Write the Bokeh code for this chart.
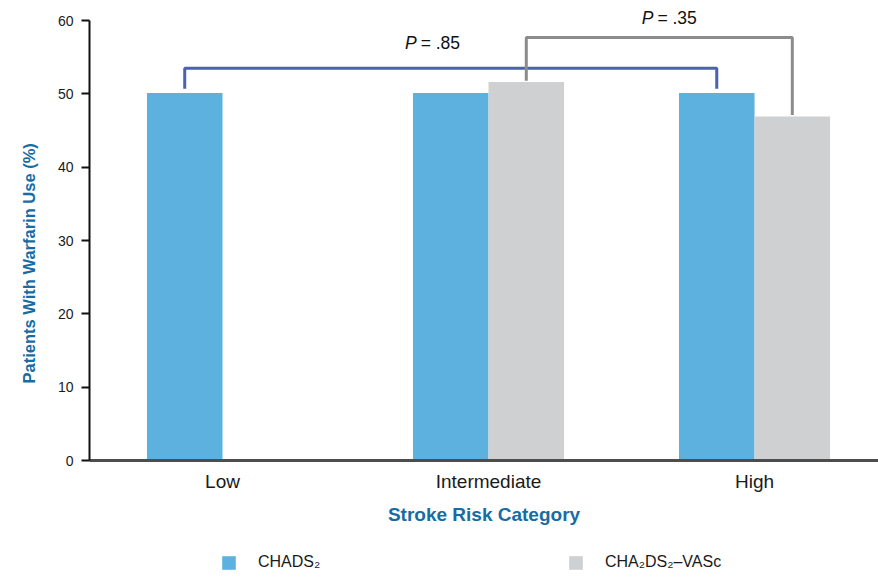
from bokeh.plotting import figure
from bokeh.layouts import column
from bokeh.models import ColumnDataSource, Range1d, FixedTicker, Legend, LegendItem, Title
from bokeh.core.properties import value
from bokeh.embed import file_html
from bokeh.resources import INLINE

# ---- data ----
categories = ["Low", "Intermediate", "High"]
cat_pos = [0.5, 1.5, 2.5]
chads2 = [50.1, 50.1, 50.1]
cha2ds2_vasc = [float("nan"), 51.6, 46.9]
series_names = ["CHADS\u2082", "CHA\u2082DS\u2082\u2013VASc"]

# p-value brackets: (series index, category index) -> (series index, category index)
bracket_labels = ["= .85", "= .35"]
bracket_from = [(0, 0), (1, 1)]
bracket_to = [(0, 2), (1, 2)]
bracket_top = [53.5, 57.7]
bracket_from_end = [50.7, 51.8]
bracket_to_end = [50.7, 47.1]
label_x = [1.29, 2.18]
label_y = [57.0, 60.4]

y_ticks = [0, 10, 20, 30, 40, 50, 60]
y_title = "Patients With Warfarin Use (%)"
x_title = "Stroke Risk Category"

# ---- styles ----
BAR_W = 0.284
DODGE = BAR_W / 2
BLUE = "#5db1de"
GREY = "#cfd0d2"
TITLE_BLUE = "#166ca3"
FONT = "Liberation Sans"
COLORS = [BLUE, GREY]

p = figure(width=878, height=538, output_backend="svg", toolbar_location=None,
           x_range=Range1d(0, 2.966), y_range=Range1d(0, 62.73),
           min_border_left=89, min_border_right=0, min_border_top=0,
           min_border_bottom=78, title=None)
p.outline_line_color = None
p.xgrid.visible = False
p.ygrid.visible = False

src1 = ColumnDataSource(dict(x=[c - DODGE for c in cat_pos], top=chads2))
src2 = ColumnDataSource(dict(x=[c + DODGE for c in cat_pos], top=cha2ds2_vasc))
p.vbar(x="x", top="top", width=BAR_W, bottom=0, source=src1,
       fill_color=BLUE, line_color=None)
p.vbar(x="x", top="top", width=BAR_W, bottom=0, source=src2,
       fill_color=GREY, line_color=None)

offsets = [-DODGE, DODGE]
xs, ys = [], []
for (fs, fc), (ts, tc), top, fe, te in zip(bracket_from, bracket_to, bracket_top,
                                            bracket_from_end, bracket_to_end):
    x0 = cat_pos[fc] + offsets[fs]
    x1 = cat_pos[tc] + offsets[ts]
    xs.append([x0, x0, x1, x1])
    ys.append([fe, top, top, te])
p.multi_line(xs=xs, ys=ys, line_color=["#4a62b0", "#8c8c8c"], line_width=3)

p.text(x=label_x, y=label_y, text=["P", "P"], text_font=value(FONT),
       text_font_style="italic", text_font_size="17.5px", text_color="#111111",
       text_align="right", text_baseline="middle", x_offset=-16)
p.text(x=label_x, y=label_y, text=bracket_labels, text_font=value(FONT),
       text_font_size="17.5px", text_color="#111111",
       text_align="left", text_baseline="middle", x_offset=-12)

# axes
xa = p.xaxis[0]
xa.ticker = FixedTicker(ticks=cat_pos)
xa.major_label_overrides = {c: l for c, l in zip(cat_pos, categories)}
xa.major_tick_line_color = None
xa.major_tick_out = 0
xa.major_tick_in = 0
xa.minor_tick_line_color = None
xa.axis_line_color = "#4d4d4d"
xa.axis_line_width = 3
xa.major_label_text_font = FONT
xa.major_label_text_font_size = "19px"
xa.major_label_text_color = "#1a1a1a"
xa.major_label_standoff = 10
xa.axis_label = x_title
xa.axis_label_text_font = FONT
xa.axis_label_text_font_style = "bold"
xa.axis_label_text_font_size = "19px"
xa.axis_label_text_color = TITLE_BLUE
xa.axis_label_standoff = 9

ya = p.yaxis[0]
ya.ticker = FixedTicker(ticks=y_ticks)
ya.bounds = (0, 60)
ya.minor_tick_line_color = None
ya.axis_line_color = "#111111"
ya.axis_line_width = 2
ya.major_tick_line_color = "#111111"
ya.major_tick_line_width = 2
ya.major_tick_out = 8
ya.major_tick_in = 0
ya.major_label_text_font = FONT
ya.major_label_text_font_size = "14px"
ya.major_label_text_color = "#1a1a1a"
ya.major_label_standoff = 8

p.add_layout(Title(text=y_title, align="left", offset=77, standoff=33,
                   text_font=FONT, text_font_style="bold", text_font_size="16.5px",
                   text_color=TITLE_BLUE), "left")

# ---- legend strip below the chart ----
lg = figure(width=878, height=40, output_backend="svg", toolbar_location=None,
            x_range=Range1d(0, 1), y_range=Range1d(0, 1),
            x_axis_type=None, y_axis_type=None, title=None,
            min_border_left=89, min_border_right=0, min_border_top=0,
            min_border_bottom=0)
lg.outline_line_color = None
lg.xgrid.visible = False
lg.ygrid.visible = False
nan = float("nan")
swatches = [lg.vbar(x=[nan], top=[nan], width=0.1, fill_color=c, line_color=None)
            for c in COLORS]
legend = Legend(items=[LegendItem(label=n, renderers=[r])
                       for n, r in zip(series_names, swatches)],
                orientation="horizontal", location=(131, 7),
                glyph_width=17, glyph_height=17, label_standoff=21,
                label_width=250, spacing=59, padding=0, margin=0,
                border_line_color=None, background_fill_alpha=0,
                label_text_font=FONT, label_text_font_size="16px",
                label_text_color="#1a1a1a", label_height=17)
lg.add_layout(legend, "center")

layout = column(p, lg, spacing=0)
open("out.html", "w").write(file_html(layout, INLINE))
